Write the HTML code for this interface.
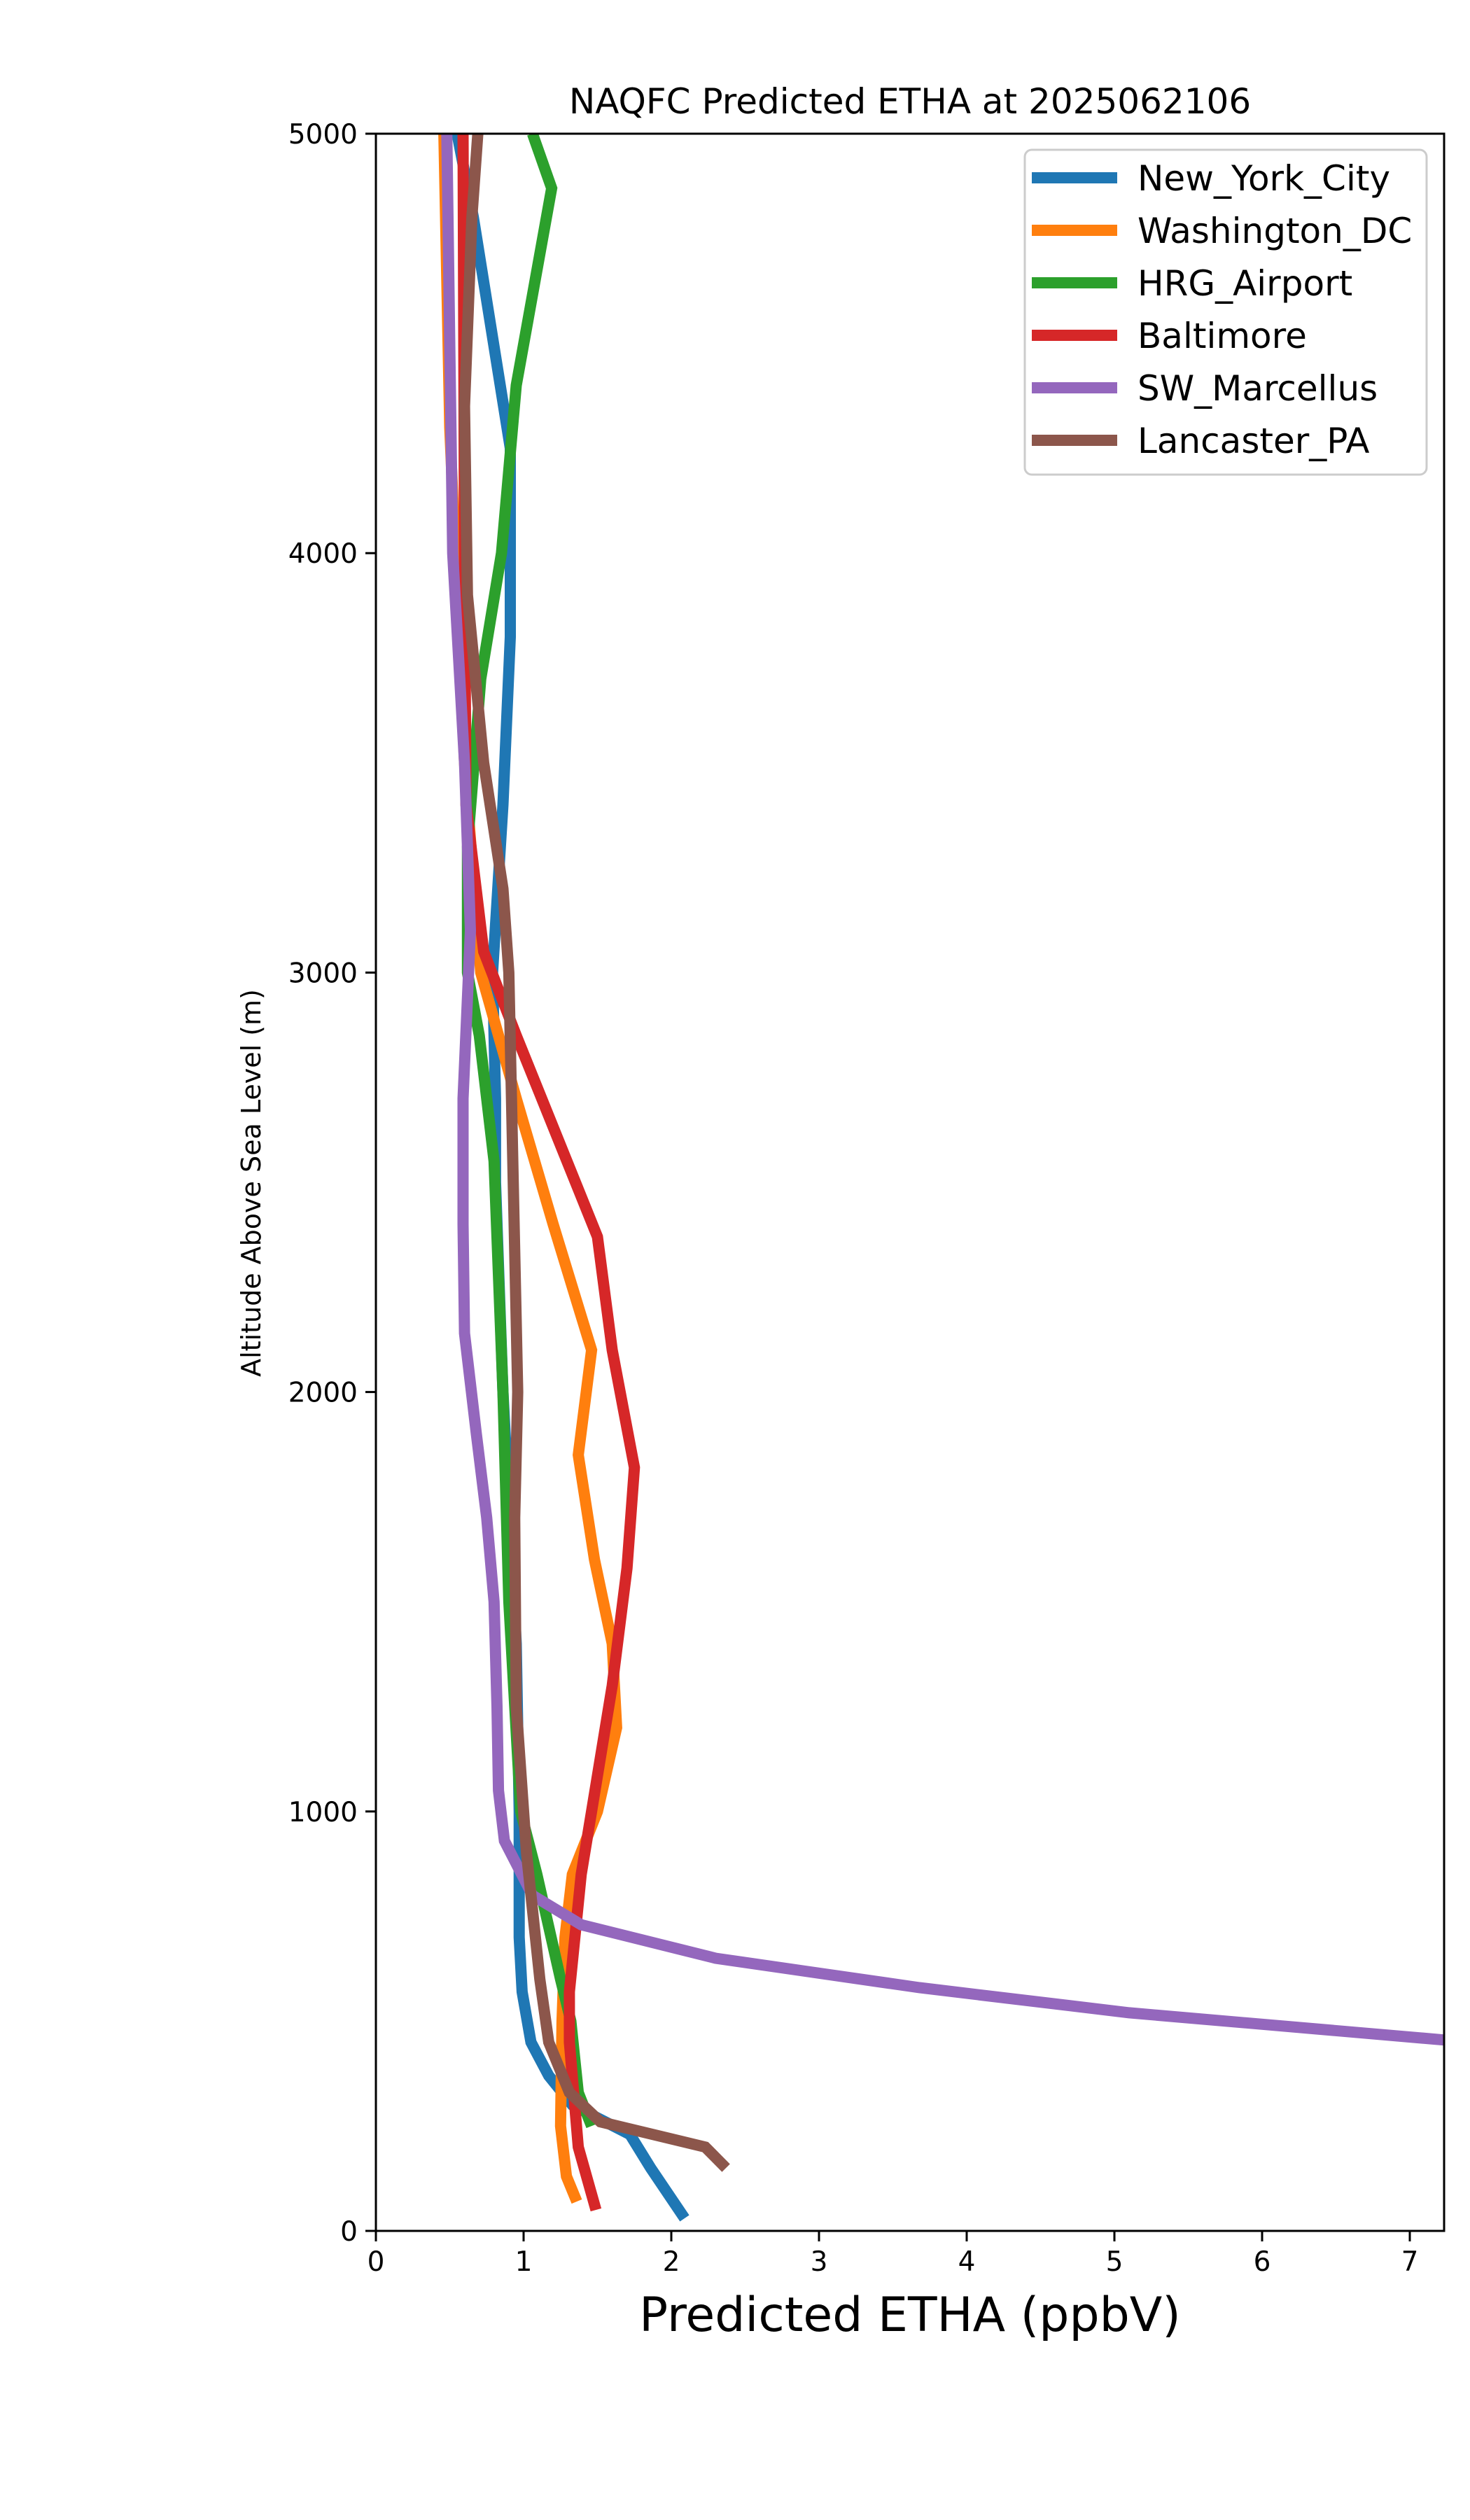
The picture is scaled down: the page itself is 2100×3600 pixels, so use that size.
<!DOCTYPE html>
<html><head><meta charset="utf-8"><style>
html,body{margin:0;padding:0;background:#fff}
svg{display:block}
text{font-family:"DejaVu Sans","Liberation Sans",sans-serif;fill:#000}
</style></head><body>
<svg id="chart" width="2100" height="3600" viewBox="0 0 2100 3600" xmlns="http://www.w3.org/2000/svg">
<defs><clipPath id="plotclip"><rect x="537" y="191" width="1526" height="2996"/></clipPath></defs>
<rect x="0" y="0" width="2100" height="3600" fill="#fff"/>
<text x="1300" y="162" font-size="50" text-anchor="middle">NAQFC Predicted ETHA at 2025062106</text>
<g id="series" clip-path="url(#plotclip)"></g>
<rect x="537" y="191" width="1526" height="2996" fill="none" stroke="#000" stroke-width="3"/>
<g id="xticks"></g>
<g id="yticks"></g>
<text x="1300" y="3330" font-size="68" text-anchor="middle">Predicted ETHA (ppbV)</text>
<text transform="translate(372,1690) rotate(-90)" font-size="38" text-anchor="middle">Altitude Above Sea Level (m)</text>
<g id="legend">
<rect x="1464" y="214" width="574" height="464" rx="10" fill="#fff" fill-opacity="0.8" stroke="#ccc" stroke-width="3"/>
</g>
</svg>
<script>
const names = ["New_York_City","Washington_DC","HRG_Airport","Baltimore","SW_Marcellus","Lancaster_PA"];
const colors = ["#1f77b4","#ff7f0e","#2ca02c","#d62728","#9467bd","#8c564b"];
const nycX = [0.55,0.66,0.91,0.91,0.86,0.79,0.81,0.81,0.86,0.95,0.97,0.97,0.99,1.05,1.17,1.33,1.72,1.86,2.09];
const nycY = [5000,4800,4250,3800,3400,3000,2700,2500,2000,1400,1000,700,570,450,370,300,230,150,30];
const dcX = [0.46,0.5,0.6,0.71,0.95,1.2,1.46,1.37,1.48,1.6,1.63,1.5,1.33,1.28,1.26,1.25,1.29,1.36];
const dcY = [5000,4300,3500,3000,2700,2400,2100,1850,1600,1400,1200,1000,850,700,500,250,130,70];
const hrgX = [1.06,1.19,0.95,0.85,0.71,0.62,0.62,0.70,0.80,0.86,0.9,0.98,1.09,1.25,1.32,1.37,1.46];
const hrgY = [5000,4870,4400,4000,3700,3300,3000,2850,2550,2000,1500,1000,850,600,500,330,250];
const balX = [0.59,0.6,0.61,0.73,0.95,1.5,1.6,1.75,1.7,1.6,1.46,1.39,1.31,1.31,1.37,1.49];
const balY = [5000,4000,3400,3050,2850,2370,2100,1820,1580,1300,1000,850,570,450,200,50];
const swmX = [0.48,0.52,0.6,0.64,0.59,0.59,0.6,0.68,0.75,0.8,0.82,0.83,0.87,1.06,1.39,2.3,3.68,5.1,7.24,7.6];
const swmY = [5000,4000,3500,3100,2700,2400,2140,1900,1700,1500,1250,1050,930,800,730,650,580,520,455,440];
const lanX = [0.69,0.65,0.6,0.62,0.73,0.86,0.9,0.93,0.96,0.94,0.95,1.02,1.11,1.17,1.31,1.52,2.23,2.37];
const lanY = [5000,4800,4350,3900,3500,3200,3000,2500,2000,1700,1250,900,600,450,330,260,200,150];
const xTicks = [0,1,2,3,4,5,6,7];
const yTicks = [0,1000,2000,3000,4000,5000];
const X0=537, X1=2063, XMAX=(2063-537)/211, Y0=3187, Y1=191, YMAX=5000;
function sx(v){return X0+v/XMAX*(X1-X0);}
function sy(v){return Y0-v/YMAX*(Y0-Y1);}
const NS="http://www.w3.org/2000/svg";
const allX=[nycX,dcX,hrgX,balX,swmX,lanX], allY=[nycY,dcY,hrgY,balY,swmY,lanY];
const sg=document.getElementById('series');
for(let i=0;i<6;i++){
  const p=document.createElementNS(NS,'polyline');
  p.setAttribute('points',allX[i].map((v,j)=>sx(v).toFixed(1)+','+sy(allY[i][j]).toFixed(1)).join(' '));
  p.setAttribute('fill','none');p.setAttribute('stroke',colors[i]);p.setAttribute('stroke-width','16');
  p.setAttribute('stroke-linejoin','miter');
  
  
  sg.appendChild(p);
}
const xg=document.getElementById('xticks');
xTicks.forEach(t=>{
  const l=document.createElementNS(NS,'line');
  l.setAttribute('x1',sx(t));l.setAttribute('x2',sx(t));l.setAttribute('y1',Y0);l.setAttribute('y2',Y0+15);
  l.setAttribute('stroke','#000');l.setAttribute('stroke-width','3');
  
  
  xg.appendChild(l);
  const tx=document.createElementNS(NS,'text');
  tx.setAttribute('x',sx(t));tx.setAttribute('y',Y0+57);tx.setAttribute('font-size','39');tx.setAttribute('text-anchor','middle');
  tx.textContent=t;
  
  
  xg.appendChild(tx);
});
const yg=document.getElementById('yticks');
yTicks.forEach(t=>{
  const l=document.createElementNS(NS,'line');
  l.setAttribute('x1',X0-15);l.setAttribute('x2',X0);l.setAttribute('y1',sy(t));l.setAttribute('y2',sy(t));
  l.setAttribute('stroke','#000');l.setAttribute('stroke-width','3');
  
  
  yg.appendChild(l);
  const tx=document.createElementNS(NS,'text');
  tx.setAttribute('x',X0-26);tx.setAttribute('y',sy(t)+14);tx.setAttribute('font-size','39');tx.setAttribute('text-anchor','end');
  tx.textContent=t;
  
  
  yg.appendChild(tx);
});
const lg=document.getElementById('legend');
names.forEach((n,i)=>{
  const y=254+i*75;
  const l=document.createElementNS(NS,'line');
  l.setAttribute('x1',1474);l.setAttribute('x2',1596);l.setAttribute('y1',y);l.setAttribute('y2',y);
  l.setAttribute('stroke',colors[i]);l.setAttribute('stroke-width','16');
  
  
  lg.appendChild(l);
  const tx=document.createElementNS(NS,'text');
  tx.setAttribute('x',1625);tx.setAttribute('y',y+18);tx.setAttribute('font-size','50');
  tx.textContent=n;
  
  
  lg.appendChild(tx);
});
</script>
</body></html>
